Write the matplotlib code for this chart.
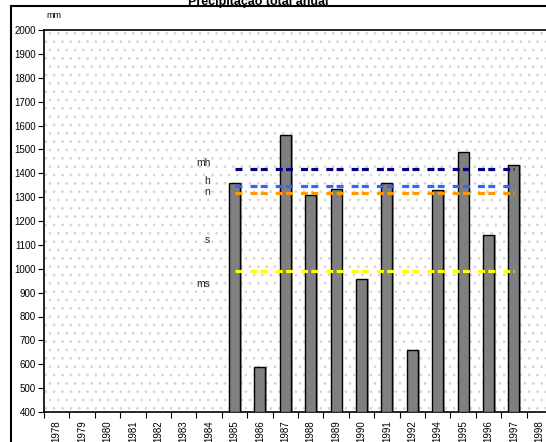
import matplotlib
matplotlib.use("Agg")
import matplotlib.pyplot as plt
from matplotlib.patches import Rectangle
import numpy as np

plt.rcParams['font.family'] = ['Liberation Sans', 'DejaVu Sans']
plt.rcParams['lines.scale_dashes'] = False
plt.rcParams['hatch.linewidth'] = 0.7

years = ['1978', '1979', '1980', '1981', '1982', '1983', '1984', '1985', '1986', '1987',
         '1988', '1989', '1990', '1991', '1992', '1994', '1995', '1996', '1997', '1998']
precip = [np.nan, np.nan, np.nan, np.nan, np.nan, np.nan, np.nan, 1360, 590, 1560,
          1310, 1335, 955, 1360, 660, 1330, 1490, 1142, 1435, np.nan]

ref_names = ['mh', 'h', 'n', 's']
ref_values = [1418, 1347, 1318, 992]
ref_colors = ['#000080', '#3366FF', '#FF9900', '#FFFF00']
ref_start, ref_end = '1985', '1997'

label_names = ['mh', 'h', 'n', 's', 'ms']
label_values = [1445, 1368, 1322, 1122, 937]

fig = plt.figure(figsize=(5.46, 4.42), dpi=100)
ax = fig.add_axes([44 / 546, 1 - 412 / 442, 508 / 546, 382 / 442])

x = np.arange(len(years))
ax.add_patch(Rectangle((0, 0), 1, 1, transform=ax.transAxes, facecolor='white',
                       edgecolor='#d4d4d4', linewidth=0, hatch='..', zorder=0.5))
vals = np.array(precip, dtype=float)
mask = ~np.isnan(vals)
# shadow
ax.bar(x[mask] + 0.07, vals[mask] - 400, bottom=400, width=0.43, color='#606060',
       edgecolor='none', zorder=2, alpha=0.6)
ax.bar(x[mask], vals[mask] - 400, bottom=400, width=0.43, color='#808080',
       edgecolor='black', linewidth=1.0, zorder=3)

i0, i1 = years.index(ref_start), years.index(ref_end)
for v, c in zip(ref_values, ref_colors):
    ax.plot([i0, i1], [v, v], color=c, linewidth=2.3,
            linestyle=(0, (5.0, 5.8, 5.0, 2.4)), zorder=4, solid_capstyle='butt',
            dash_capstyle='butt')

for n, v in zip(label_names, label_values):
    ax.text(years.index('1984') + 0.05, v, n, ha='right', va='center', fontsize=7.5,
            color='#222222', zorder=5)

ax.set_xlim(-0.5, len(years) - 0.5)
ax.set_ylim(400, 2000)
ax.set_yticks(np.arange(400, 2001, 100))
ax.tick_params(axis='y', labelsize=7, length=4, width=0.8, direction='out', pad=2)
ax.set_xticks(x)
ax.set_xticklabels(years, rotation=90, fontsize=7)
ax.set_xticks(np.arange(len(years) + 1) - 0.5, minor=True)
ax.tick_params(axis='x', which='major', length=0, pad=6)
ax.tick_params(axis='x', which='minor', length=4, width=0.8, direction='out')
for s in ax.spines.values():
    s.set_linewidth(1.2)
    s.set_color('black')

fig.text(46 / 546, 1 - 16 / 442, 'mm', fontsize=6.5, va='center', ha='left')
fig.text(258 / 546, 1 - 5 / 442, 'Precipitação total anual', fontsize=9,
         fontweight='bold', ha='center', va='baseline')
fig.add_artist(Rectangle((11 / 546, -0.1), 1.2, 1 - 6 / 442 + 0.1, transform=fig.transFigure,
                         facecolor='none', edgecolor='black', linewidth=1.5))

fig.savefig('out.png', dpi=100)
